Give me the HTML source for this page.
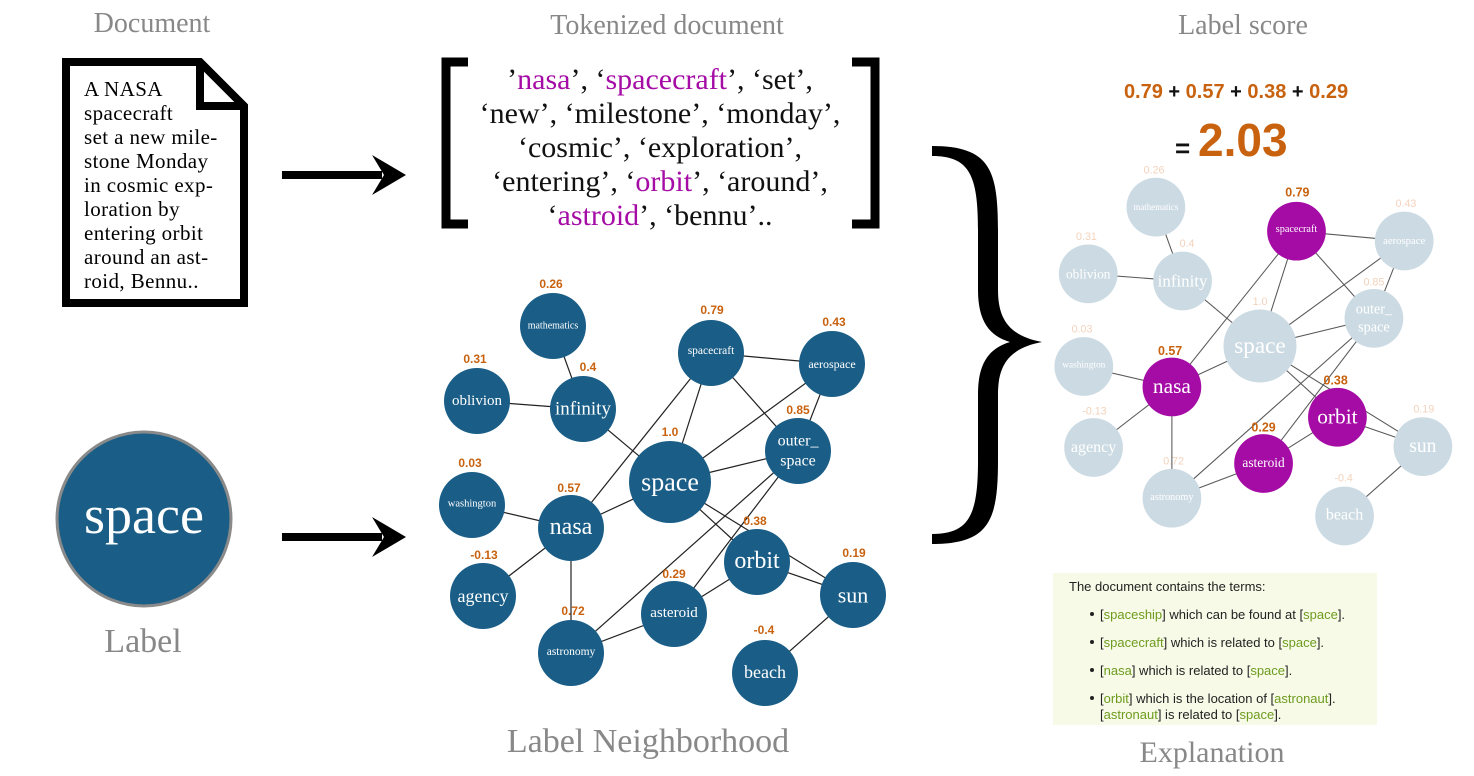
<!DOCTYPE html>
<html><head><meta charset="utf-8"><style>
html,body{margin:0;padding:0;background:#fff;}
svg{display:block;}
.t{font-family:"Liberation Serif",serif;fill:#888;}
.n{fill:#1a5e87;}
.nt{font-family:"Liberation Serif",serif;fill:#fff;text-anchor:middle;dominant-baseline:central;}
.sc{font-family:"Liberation Sans",sans-serif;font-weight:bold;font-size:12px;fill:#c8620f;text-anchor:middle;}
.e line{stroke:#222;stroke-width:1.2;}
.tok{font-family:"Liberation Serif",serif;font-size:30px;fill:#111;text-anchor:middle;}
.p{fill:#a50ca5;}
.ex{font-family:"Liberation Sans",sans-serif;font-size:13px;fill:#222;}
.g{fill:#6e9b1f;}
</style></head><body>
<svg width="1474" height="776" viewBox="0 0 1474 776" xmlns="http://www.w3.org/2000/svg">
<defs>
<g id="edges" class="e">
<line x1="553" y1="326" x2="583" y2="409"/><line x1="477" y1="401" x2="583" y2="409"/><line x1="583" y1="409" x2="670" y2="482"/>
<line x1="711" y1="353" x2="832" y2="364"/><line x1="711" y1="353" x2="670" y2="482"/><line x1="711" y1="353" x2="571" y2="528"/><line x1="711" y1="353" x2="798" y2="451"/>
<line x1="832" y1="364" x2="670" y2="482"/><line x1="832" y1="364" x2="798" y2="451"/><line x1="798" y1="451" x2="670" y2="482"/>
<line x1="798" y1="451" x2="571" y2="653"/><line x1="798" y1="451" x2="674" y2="614"/>
<line x1="670" y1="482" x2="571" y2="528"/><line x1="670" y1="482" x2="757" y2="562"/><line x1="670" y1="482" x2="853" y2="595"/>
<line x1="472" y1="505" x2="571" y2="528"/><line x1="571" y1="528" x2="483" y2="596"/><line x1="571" y1="528" x2="571" y2="653"/>
<line x1="757" y1="562" x2="674" y2="614"/><line x1="757" y1="562" x2="853" y2="595"/><line x1="674" y1="614" x2="571" y2="653"/><line x1="853" y1="595" x2="765" y2="673"/>
</g>
</defs>

<text class="t" x="152" y="32" font-size="28" text-anchor="middle">Document</text>
<text class="t" x="667" y="34" font-size="28" text-anchor="middle">Tokenized document</text>
<text class="t" x="1243" y="34" font-size="28" text-anchor="middle">Label score</text>
<text class="t" x="143" y="652" font-size="34" text-anchor="middle">Label</text>
<text class="t" x="648" y="752" font-size="34" text-anchor="middle">Label Neighborhood</text>
<text class="t" x="1212" y="762" font-size="30" text-anchor="middle">Explanation</text>

<path d="M66 62 L200 62 L244 106 L244 303 L66 303 Z" fill="#fff" stroke="#000" stroke-width="8"/>
<path d="M200 62 L200 106 L244 106" fill="none" stroke="#000" stroke-width="8"/>
<g font-family="Liberation Serif,serif" font-size="21" fill="#000" letter-spacing="0.4">
<text x="84" y="96">A NASA</text><text x="84" y="120">spacecraft</text><text x="84" y="144">set a new mile-</text>
<text x="84" y="168">stone Monday</text><text x="84" y="192">in cosmic exp-</text><text x="84" y="216">loration by</text>
<text x="84" y="240">entering orbit</text><text x="84" y="264">around an ast-</text><text x="84" y="288">roid, Bennu..</text>
</g>

<g fill="#000">
<rect x="282" y="171" width="100" height="8"/><path d="M372 155 L406 175 L372 195 L384 175 Z"/>
<rect x="282" y="533" width="100" height="8"/><path d="M372 517 L406 537 L372 557 L384 537 Z"/>
</g>

<path d="M468 62 L446 62 L446 224 L468 224" fill="none" stroke="#000" stroke-width="9"/>
<path d="M852 62 L875 62 L875 224 L852 224" fill="none" stroke="#000" stroke-width="9"/>
<text class="tok" x="660" y="89">’<tspan fill="#a50ca5">nasa</tspan>’, ‘<tspan fill="#a50ca5">spacecraft</tspan>’, ‘set’,</text>
<text class="tok" x="660" y="123">‘new’, ‘milestone’, ‘monday’,</text>
<text class="tok" x="660" y="157">‘cosmic’, ‘exploration’,</text>
<text class="tok" x="660" y="191">‘entering’, ‘<tspan fill="#a50ca5">orbit</tspan>’, ‘around’,</text>
<text class="tok" x="660" y="225">‘<tspan fill="#a50ca5">astroid</tspan>’, ‘bennu’..</text>

<path d="M932 146 C990 146 998 170 998 230 L998 290 C998 320 1010 336 1042 342 C1010 348 998 364 998 394 L998 460 C998 520 990 544 932 544 L932 534 C970 534 978 514 978 460 L978 394 C978 362 990 348 1010 342 C990 336 978 322 978 290 L978 230 C978 176 970 156 932 156 Z" fill="#000"/>

<circle cx="144" cy="519" r="87" fill="#1a5e87" stroke="#8a8a8a" stroke-width="3"/>
<text class="nt" x="144" y="515" font-size="54">space</text>

<use href="#edges"/>
<g>
<circle class="n" cx="553" cy="326" r="33"/><circle class="n" cx="477" cy="401" r="33"/><circle class="n" cx="583" cy="409" r="33"/>
<circle class="n" cx="711" cy="353" r="33"/><circle class="n" cx="832" cy="364" r="33"/><circle class="n" cx="798" cy="451" r="33"/>
<circle class="n" cx="670" cy="482" r="41"/><circle class="n" cx="472" cy="505" r="33"/><circle class="n" cx="571" cy="528" r="33"/>
<circle class="n" cx="483" cy="596" r="33"/><circle class="n" cx="757" cy="562" r="33"/><circle class="n" cx="853" cy="595" r="33"/>
<circle class="n" cx="674" cy="614" r="33"/><circle class="n" cx="571" cy="653" r="33"/><circle class="n" cx="765" cy="673" r="33"/>
</g>
<g>
<text class="nt" x="553" y="326" font-size="10">mathematics</text>
<text class="nt" x="477" y="401" font-size="15">oblivion</text>
<text class="nt" x="583" y="409" font-size="19">infinity</text>
<text class="nt" x="711" y="351" font-size="11.5">spacecraft</text>
<text class="nt" x="832" y="364" font-size="12">aerospace</text>
<text class="nt" x="798" y="441" font-size="16">outer_</text><text class="nt" x="798" y="461" font-size="16">space</text>
<text class="nt" x="670" y="482" font-size="26">space</text>
<text class="nt" x="472" y="504" font-size="10.5">washington</text>
<text class="nt" x="571" y="527" font-size="24">nasa</text>
<text class="nt" x="483" y="596" font-size="18">agency</text>
<text class="nt" x="757" y="561" font-size="24">orbit</text>
<text class="nt" x="853" y="595" font-size="22">sun</text>
<text class="nt" x="674" y="613" font-size="15">asteroid</text>
<text class="nt" x="571" y="652" font-size="11.5">astronomy</text>
<text class="nt" x="765" y="672" font-size="18">beach</text>
</g>
<g>
<text class="sc" x="551" y="288">0.26</text><text class="sc" x="475" y="363">0.31</text><text class="sc" x="588" y="371">0.4</text>
<text class="sc" x="712" y="314">0.79</text><text class="sc" x="834" y="326">0.43</text><text class="sc" x="798" y="414">0.85</text>
<text class="sc" x="670" y="436">1.0</text><text class="sc" x="470" y="467">0.03</text><text class="sc" x="569" y="492">0.57</text>
<text class="sc" x="484" y="559">-0.13</text><text class="sc" x="755" y="525">0.38</text><text class="sc" x="854" y="557">0.19</text>
<text class="sc" x="674" y="578">0.29</text><text class="sc" x="573" y="615">0.72</text><text class="sc" x="764" y="634">-0.4</text>
</g>

<text x="1236" y="98" font-family="Liberation Sans,sans-serif" font-weight="bold" font-size="20" fill="#c8620f" text-anchor="middle">0.79 <tspan fill="#111">+</tspan> 0.57 <tspan fill="#111">+</tspan> 0.38 <tspan fill="#111">+</tspan> 0.29</text>
<text x="1175" y="157" font-family="Liberation Sans,sans-serif" font-weight="bold" font-size="26" fill="#111">=</text>
<text x="1198" y="156" font-family="Liberation Sans,sans-serif" font-weight="bold" font-size="46" fill="#c8620f">2.03</text>

<g transform="translate(1260 346) scale(0.89) translate(-670 -482)">
<g opacity="0.75"><use href="#edges"/></g>
<g fill="#ccdbe3">
<circle cx="553" cy="326" r="33"/><circle cx="477" cy="401" r="33"/><circle cx="583" cy="409" r="33"/>
<circle class="p" cx="711" cy="353" r="33"/><circle cx="832" cy="364" r="33"/><circle cx="798" cy="451" r="33"/>
<circle cx="670" cy="482" r="41"/><circle cx="472" cy="505" r="33"/><circle class="p" cx="571" cy="528" r="33"/>
<circle cx="483" cy="596" r="33"/><circle class="p" cx="757" cy="562" r="33"/><circle cx="853" cy="595" r="33"/>
<circle class="p" cx="674" cy="614" r="33"/><circle cx="571" cy="653" r="33"/><circle cx="765" cy="673" r="33"/>
</g>
<g>
<text class="nt" x="553" y="326" font-size="10">mathematics</text>
<text class="nt" x="477" y="401" font-size="15">oblivion</text>
<text class="nt" x="583" y="409" font-size="19">infinity</text>
<text class="nt" x="711" y="351" font-size="11.5">spacecraft</text>
<text class="nt" x="832" y="364" font-size="12">aerospace</text>
<text class="nt" x="798" y="441" font-size="16">outer_</text><text class="nt" x="798" y="461" font-size="16">space</text>
<text class="nt" x="670" y="482" font-size="26">space</text>
<text class="nt" x="472" y="504" font-size="10.5">washington</text>
<text class="nt" x="571" y="527" font-size="24">nasa</text>
<text class="nt" x="483" y="596" font-size="18">agency</text>
<text class="nt" x="757" y="561" font-size="24">orbit</text>
<text class="nt" x="853" y="595" font-size="22">sun</text>
<text class="nt" x="674" y="613" font-size="15">asteroid</text>
<text class="nt" x="571" y="652" font-size="11.5">astronomy</text>
<text class="nt" x="765" y="672" font-size="18">beach</text>
</g>
<g>
<text class="sc" style="fill:#f3d2bb;font-weight:normal" x="551" y="288">0.26</text><text class="sc" style="fill:#f3d2bb;font-weight:normal" x="475" y="363">0.31</text><text class="sc" style="fill:#f3d2bb;font-weight:normal" x="588" y="371">0.4</text>
<text class="sc" style="font-size:14px" x="712" y="314">0.79</text><text class="sc" style="fill:#f3d2bb;font-weight:normal" x="834" y="326">0.43</text><text class="sc" style="fill:#f3d2bb;font-weight:normal" x="798" y="414">0.85</text>
<text class="sc" style="fill:#f3d2bb;font-weight:normal" x="670" y="436">1.0</text><text class="sc" style="fill:#f3d2bb;font-weight:normal" x="470" y="467">0.03</text><text class="sc" style="font-size:14px" x="569" y="492">0.57</text>
<text class="sc" style="fill:#f3d2bb;font-weight:normal" x="484" y="559">-0.13</text><text class="sc" style="font-size:14px" x="755" y="525">0.38</text><text class="sc" style="fill:#f3d2bb;font-weight:normal" x="854" y="557">0.19</text>
<text class="sc" style="font-size:14px" x="674" y="578">0.29</text><text class="sc" style="fill:#f3d2bb;font-weight:normal" x="573" y="615">0.72</text><text class="sc" style="fill:#f3d2bb;font-weight:normal" x="764" y="634">-0.4</text>
</g>
</g>

<rect x="1053" y="573" width="324" height="152" fill="#f6fae6"/>
<text class="ex" x="1069" y="591">The document contains the terms:</text>
<circle cx="1092" cy="614" r="2" fill="#222"/><text class="ex" x="1100" y="619">[<tspan class="g">spaceship</tspan>] which can be found at [<tspan class="g">space</tspan>].</text>
<circle cx="1092" cy="642" r="2" fill="#222"/><text class="ex" x="1100" y="647">[<tspan class="g">spacecraft</tspan>] which is related to [<tspan class="g">space</tspan>].</text>
<circle cx="1092" cy="670" r="2" fill="#222"/><text class="ex" x="1100" y="675">[<tspan class="g">nasa</tspan>] which is related to [<tspan class="g">space</tspan>].</text>
<circle cx="1092" cy="698" r="2" fill="#222"/><text class="ex" x="1100" y="703">[<tspan class="g">orbit</tspan>] which is the location of [<tspan class="g">astronaut</tspan>].</text>
<text class="ex" x="1100" y="719">[<tspan class="g">astronaut</tspan>] is related to [<tspan class="g">space</tspan>].</text>
</svg>
</body></html>
